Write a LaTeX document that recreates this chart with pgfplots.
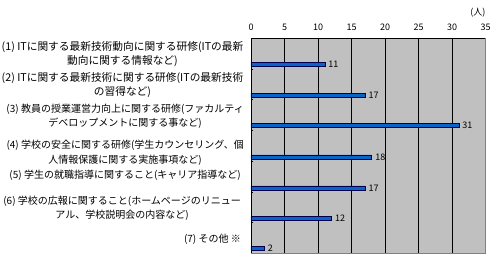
\documentclass[border=0pt]{standalone}
\usepackage{pgfplots}
\pgfplotsset{compat=1.18}
\usepackage{fontspec}
\setmainfont{Noto Sans CJK JP}
\definecolor{bgc}{HTML}{C0C0C0}
\definecolor{barc}{HTML}{0A64C8}
\definecolor{edgec}{HTML}{808080}
\begin{document}
\begin{tikzpicture}
\useasboundingbox (-251pt,38.3pt) rectangle (243pt,-224.7pt);
\begin{axis}[
  at={(0,0)}, anchor=north west,
  scale only axis, width=234.7pt, height=215pt,
  xmin=0, xmax=35, ymin=0, ymax=7, y dir=reverse,
  axis line style={draw=none},
  axis background/.style={fill=bgc},
  xtick={0,5,...,35}, xticklabel pos=top,
  x tick style={draw=none},
  xticklabel style={font=\fontsize{9}{10}\selectfont, yshift=4.5pt},
  /pgf/number format/assume math mode=true,
  xmajorgrids, grid style={black, line width=0.8pt},
  ytick={1,2,3,4,5,6}, yticklabels={}, ytick pos=left, tick align=inside,
  y tick style={black, line width=0.6pt}, major tick length=2.5pt,
  clip=false,
  bar width=4pt,
  nodes near coords, point meta=explicit symbolic,
  every node near coord/.append style={font=\fontsize{9}{10}\selectfont, anchor=west, xshift=0pt, text=black},
]
\addplot[xbar, fill=barc, draw=black!70!blue, line width=0.5pt] coordinates {
 (11,0.85) [11]
 (17,1.85) [17]
 (31,2.84) [31]
 (18,3.86) [18]
 (17,4.87) [17]
 (12,5.86) [12]
 (2,6.84) [2]
};
\draw[black, line width=0.8pt] (axis cs:0,7) -- (axis cs:0,0) -- (axis cs:35,0);
\draw[edgec, line width=0.8pt] (axis cs:35,0) -- (axis cs:35,7) -- (axis cs:0,7);
\begin{scope}[every node/.style={anchor=east, align=center, font=\fontsize{10}{14.5}\selectfont, inner sep=0pt, xshift=-7pt}]
\node[font=\fontsize{10.7}{14.5}\selectfont, xshift=-0.5pt] at (axis cs:0,0.505) {(1) ITに関する最新技術動向に関する研修(ITの最新\\動向に関する情報など)};
\node[font=\fontsize{10.7}{14.5}\selectfont, xshift=-0.5pt] at (axis cs:0,1.52) {(2) ITに関する最新技術に関する研修(ITの最新技術\\の習得など)};
\node at (axis cs:0,2.54) {(3) 教員の授業運営力向上に関する研修(ファカルティ\\デベロップメントに関する事など)};
\node at (axis cs:0,3.72) {(4) 学校の安全に関する研修(学生カウンセリング、個\\人情報保護に関する実施事項など)};
\node[xshift=-3pt] at (axis cs:0,4.45) {(5) 学生の就職指導に関すること(キャリア指導など)};
\node[xshift=-3pt] at (axis cs:0,5.54) {(6) 学校の広報に関すること(ホームページのリニュー\\アル、学校説明会の内容など)};
\node[xshift=-3pt] at (axis cs:0,6.56) {(7) その他 ※};
\end{scope}
\node[anchor=east, font=\fontsize{9}{10}\selectfont, inner sep=0pt] at ([yshift=26pt]axis cs:35,0) {(人)};
\end{axis}
\end{tikzpicture}
\end{document}
